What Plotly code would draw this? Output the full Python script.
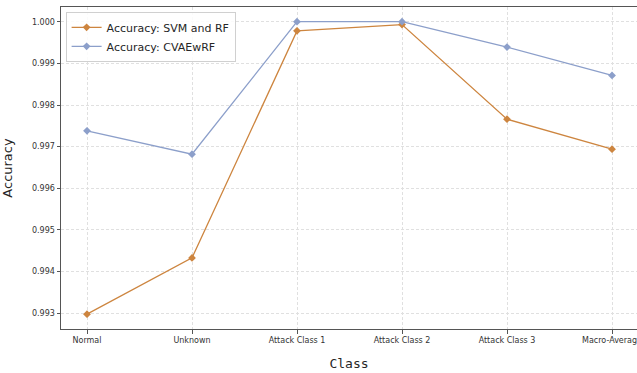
import plotly.graph_objects as go

classes = ["Normal", "Unknown", "Attack Class 1", "Attack Class 2", "Attack Class 3", "Macro-Average"]
acc_svm_rf = [0.99298, 0.99433, 0.99978, 0.99993, 0.99766, 0.99694]
acc_cvaewrf = [0.99738, 0.99682, 1.00000, 1.00000, 0.99939, 0.99871]
y_ticks = [0.993, 0.994, 0.995, 0.996, 0.997, 0.998, 0.999, 1.000]

fig = go.Figure()
fig.add_trace(go.Scatter(
    x=classes, y=acc_svm_rf, mode="lines+markers", name="Accuracy: SVM and RF",
    line=dict(color="#cd853f", width=1.3),
    marker=dict(symbol="diamond", size=6, color="#cd853f"),
))
fig.add_trace(go.Scatter(
    x=classes, y=acc_cvaewrf, mode="lines+markers", name="Accuracy: CVAEwRF",
    line=dict(color="#8c9fca", width=1.3),
    marker=dict(symbol="diamond", size=6, color="#8c9fca"),
))

fig.update_layout(
    width=637, height=373,
    margin=dict(l=61, r=0, t=7, b=44, autoexpand=False),
    paper_bgcolor="white", plot_bgcolor="white",
    font=dict(family="DejaVu Sans", color="#262626"),
    legend=dict(
        x=0.008, y=0.985, xanchor="left", yanchor="top",
        bgcolor="rgba(255,255,255,0.85)", bordercolor="#d0d0d0", borderwidth=1,
        font=dict(size=11, family="DejaVu Sans"),
        tracegroupgap=0, itemwidth=30,
    ),
    showlegend=True,
)
fig.update_xaxes(
    type="category", range=[-0.2476, 5.238], automargin=False,
    showline=True, linecolor="#555555", linewidth=1, mirror=True,
    ticks="outside", ticklen=3.5, tickcolor="#555555",
    tickfont=dict(size=8, family="DejaVu Sans", color="#333333"),
    showgrid=True, gridcolor="#e0e0e0", griddash="3px,2px", gridwidth=0.8,
    title=dict(text="Class", font=dict(size=13, family="DejaVu Sans Mono", color="#262626"), standoff=14),
    zeroline=False,
)
fig.update_yaxes(
    range=[0.992623, 1.000353], tickvals=y_ticks, tickformat=".3f", automargin=False,
    showline=True, linecolor="#555555", linewidth=1, mirror=False,
    ticks="outside", ticklen=3.5, tickcolor="#555555",
    tickfont=dict(size=8, family="DejaVu Sans", color="#333333"),
    showgrid=True, gridcolor="#e0e0e0", griddash="3px,2px", gridwidth=0.8,
    title=dict(text="Accuracy", font=dict(size=13, family="DejaVu Sans", color="#262626"), standoff=16),
    zeroline=False,
)

fig.write_html("out.html")
